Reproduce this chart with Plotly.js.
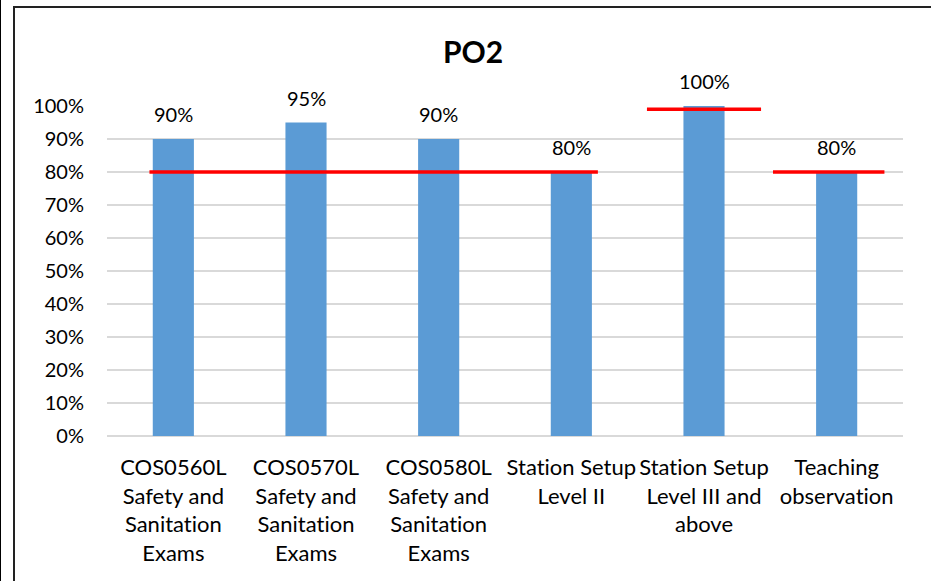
<!DOCTYPE html>
<html>
<head>
<meta charset="utf-8">
<script src="https://cdn.plot.ly/plotly-3.0.1.min.js"></script>
<style>
  html, body { margin: 0; padding: 0; background: #fff; }
  #wrap { position: relative; width: 931px; height: 581px; overflow: hidden; }
  #chart { position: absolute; left: 0; top: 0; width: 931px; height: 581px; }
  #chart text { font-variant-ligatures: none; font-feature-settings: "liga" 0; }
  #b1 { position: absolute; left: 0; top: 0; width: 1px; height: 581px; background: #000; pointer-events: none; }
  #b2 { position: absolute; left: 13px; top: 6px; width: 918px; height: 575px; border-left: 2px solid #222; border-top: 2px solid #222; pointer-events: none; box-sizing: border-box; }
</style>
</head>
<body>
<div id="wrap">
  <div id="chart"></div>
  <div id="b1"></div>
  <div id="b2"></div>
</div>
<script>
// ---- data ----
const categories = [
  "COS0560L<br>Safety and<br>Sanitation<br>Exams",
  "COS0570L<br>Safety and<br>Sanitation<br>Exams",
  "COS0580L<br>Safety and<br>Sanitation<br>Exams",
  "Station Setup<br>Level II",
  "Station Setup<br>Level III and<br>above",
  "Teaching<br>observation"
];
const values = [0.90, 0.95, 0.90, 0.80, 1.00, 0.80];
const valueLabels = ["90%", "95%", "90%", "80%", "100%", "80%"];

// target lines: start/end in category-index units, and target level
const targetStart = [-0.18, 3.57, 4.52];
const targetEnd   = [3.20, 4.43, 5.36];
const targetValue = [0.80, 0.99, 0.80];

// ---- build traces ----
const idx = categories.map((c, i) => i);
const tx = [], ty = [];
targetValue.forEach((v, i) => {
  tx.push(targetStart[i], targetEnd[i], null);
  ty.push(v, v, null);
});

const barTrace = {
  type: 'bar',
  x: idx,
  y: values,
  marker: { color: '#5B9BD5' },
  hoverinfo: 'none',
  showlegend: false
};

const targetTrace = {
  type: 'scatter',
  mode: 'lines',
  x: tx,
  y: ty,
  line: { color: '#FF0000', width: 3.5 },
  connectgaps: false,
  hoverinfo: 'none',
  showlegend: false
};

const annotations = values.map((v, i) => ({
  x: i, y: v, xref: 'x', yref: 'y',
  text: valueLabels[i],
  showarrow: false,
  yanchor: 'bottom',
  yshift: 11,
  font: { family: 'Lato, sans-serif', size: 20, color: '#000' }
}));

const layout = {
  width: 931,
  height: 581,
  paper_bgcolor: '#fff',
  plot_bgcolor: '#fff',
  margin: { l: 107, r: 28, t: 106, b: 145 },
  title: {
    text: '<b>PO2</b>',
    font: { family: 'Lato, sans-serif', size: 30, color: '#000' },
    x: 473 / 931, xanchor: 'center', xref: 'container',
    y: 1 - 52 / 581, yanchor: 'middle', yref: 'container'
  },
  bargap: 0.69,
  xaxis: {
    type: 'linear',
    range: [-0.5, 5.5],
    tickmode: 'array',
    tickvals: idx,
    ticktext: categories,
    showgrid: false,
    zeroline: false,
    showline: false,
    ticks: '',
    tickfont: { family: 'Lato, sans-serif', size: 22, color: '#000' },
    ticklabelstandoff: 16
  },
  yaxis: {
    range: [0, 1.0],
    dtick: 0.1,
    tick0: 0,
    tickformat: '.0%',
    showgrid: true,
    gridcolor: '#D9D9D9',
    gridwidth: 1.5,
    zeroline: true,
    zerolinecolor: '#D9D9D9',
    zerolinewidth: 1.5,
    showline: false,
    ticks: '',
    tickfont: { family: 'Lato, sans-serif', size: 20, color: '#000' },
    ticklabelstandoff: 22
  },
  annotations: annotations,
  showlegend: false
};

Plotly.newPlot('chart', [barTrace, targetTrace], layout, { displayModeBar: false, staticPlot: true });
</script>
</body>
</html>
